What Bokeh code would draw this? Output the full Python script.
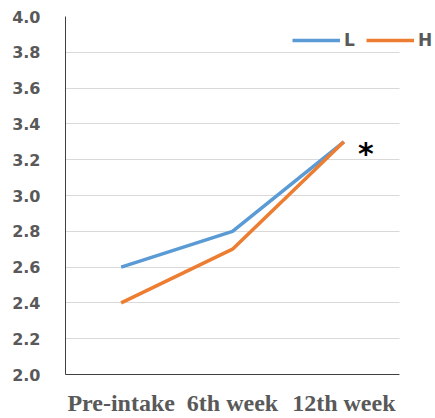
from bokeh.plotting import figure
from bokeh.models import (FixedTicker, Legend, LegendItem, NumeralTickFormatter, Range1d,
                          BoxAnnotation, ColumnDataSource)
from bokeh.embed import file_html
from bokeh.resources import INLINE
from bokeh.core.properties import value

categories = ["Pre-intake", "6th week", "12th week"]
L_values = [2.6, 2.8, 3.3]
H_values = [2.4, 2.7, 3.3]
y_ticks = [2.0, 2.2, 2.4, 2.6, 2.8, 3.0, 3.2, 3.4, 3.6, 3.8, 4.0]
mark_category = "12th week"
mark_value = 3.3
mark_text = "*"

idx = list(range(len(categories)))
src = ColumnDataSource(data=dict(x=idx, L=L_values, H=H_values))
mark_src = ColumnDataSource(data=dict(x=[categories.index(mark_category)], y=[mark_value], t=[mark_text]))

p = figure(x_range=Range1d(-0.5, 2.823), y_range=Range1d(2.0, 4.0), width=435, height=418,
           output_backend="svg", toolbar_location=None,
           min_border_left=65, min_border_right=0, min_border_top=16, min_border_bottom=44)
p.outline_line_color = None
p.background_fill_color = "white"
p.border_fill_color = "white"

p.yaxis.ticker = FixedTicker(ticks=y_ticks)
p.yaxis.formatter = NumeralTickFormatter(format="0.0")
p.ygrid.ticker = FixedTicker(ticks=y_ticks)
p.ygrid.grid_line_color = "#D9D9D9"
p.ygrid.grid_line_width = 1
p.xgrid.grid_line_color = None

# hide grid lines beyond the last category slot
p.add_layout(BoxAnnotation(left=2.5, fill_color="white", fill_alpha=1.0, line_color=None))

rL = p.line("x", "L", source=src, line_color="#5B9BD5", line_width=3.5)
rH = p.line("x", "H", source=src, line_color="#ED7D31", line_width=3.5)

p.text(x="x", y="y", text="t", source=mark_src, x_offset=22, y_offset=12,
       text_font=value("DejaVu Sans"), text_font_style="bold", text_font_size="30px",
       text_color="black", text_align="center", text_baseline="middle")

p.xaxis.ticker = FixedTicker(ticks=idx)
p.xaxis.major_label_overrides = {i: c for i, c in zip(idx, categories)}
p.xaxis.bounds = (-0.5, 2.5)

for ax in (p.xaxis, p.yaxis):
    ax.axis_line_color = "#404040"
    ax.axis_line_width = 1
    ax.major_tick_line_color = None
    ax.minor_tick_line_color = None

p.yaxis.major_label_text_font = "DejaVu Sans"
p.yaxis.major_label_text_font_style = "bold"
p.yaxis.major_label_text_font_size = "16px"
p.yaxis.major_label_text_color = "#595959"
p.yaxis.major_label_standoff = 19

p.xaxis.major_label_text_font = "Liberation Serif"
p.xaxis.major_label_text_font_style = "bold"
p.xaxis.major_label_text_font_size = "24px"
p.xaxis.major_label_text_color = "#595959"
p.xaxis.major_label_standoff = 9

legend = Legend(items=[LegendItem(label="L", renderers=[rL]), LegendItem(label="H", renderers=[rH])],
                orientation="horizontal", location=(227, 324),
                padding=0, margin=0, spacing=2, glyph_width=48, glyph_height=18,
                label_standoff=4, border_line_color=None, background_fill_alpha=0,
                label_text_font="DejaVu Sans", label_text_font_style="bold",
                label_text_font_size="17px", label_text_color="#595959")
p.add_layout(legend, "center")

open("out.html", "w").write(file_html(p, INLINE))
